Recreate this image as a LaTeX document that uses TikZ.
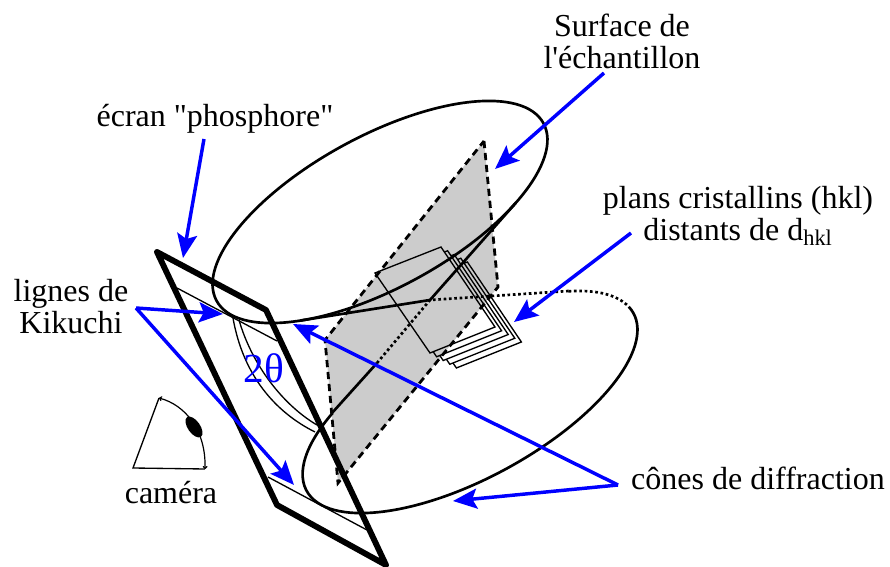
\documentclass[tikz,border=0pt]{standalone}
\usepackage{fontspec}
\setmainfont{Liberation Serif}[Ligatures=TeXOff]
\usepackage{xcolor}
\usepackage{tikz}
\usetikzlibrary{arrows.meta}
\definecolor{PlanGray}{HTML}{CCCCCC}
\definecolor{ArrowBlue}{HTML}{0000FF}
\tikzset{
  labeltext/.style={align=center,inner sep=0pt,font=\fontsize{24}{24}\selectfont},
  bluearrow/.style={-{Stealth[length=18pt,width=15pt,inset=3.5pt]},line width=2.6pt,draw=ArrowBlue},
  screenline/.style={line width=4.4pt,line join=round},
  coneline/.style={line width=2pt},
  conedots/.style={line width=2pt,dash pattern=on 2pt off 2pt},
  planedash/.style={fill=PlanGray,line width=2.1pt,dash pattern=on 5.4pt off 3.6pt},
  crystalline/.style={line width=1pt,line join=miter},
  camtip/.style={{To[length=0.8mm,width=1.3mm]}-{To[length=0.8mm,width=1.3mm]},line width=0.9pt}
}
\begin{document}
\begin{tikzpicture}[x=0.75pt,y=-0.75pt]
\useasboundingbox (0,0) rectangle (890,567);
\coordinate (apex) at (430,300);
\coordinate (upperleft) at (300.6,320.5);
\coordinate (upperright) at (516,202.6);
\coordinate (lowerright) at (568.7,291);
\coordinate (lowerleft) at (332,413);
\coordinate (dotstop) at (377,363);
\draw[planedash] (484,141)--(498,287)--(338,483)--(325,340)--cycle;
\draw[crystalline] (375,273)--(441,247)--(495,327)--(430,353)--cycle;
\foreach \i in {1,...,4}
  \draw[crystalline,shift={(6.6*\i,3.75*\i)}] (437.9,248.2)--(441,247)--(495,327)--(430,353)--(426.6,348);
\draw[coneline,rotate around={28.5:(380,212)}] (380,212) ellipse [x radius=139.5pt,y radius=57pt];
\draw[coneline] (upperleft)--(apex)--(upperright);
\begin{scope}[shift={(470,402)},rotate=28.5]
\draw[conedots] (41.4:139.5pt and 57pt) arc [start angle=41.4,end angle=6,x radius=139.5pt,y radius=57pt];
\draw[coneline] (6:139.5pt and 57pt) arc [start angle=6,end angle=-227.2,x radius=139.5pt,y radius=57pt];
\end{scope}
\draw[conedots] (lowerright)--(apex)--(dotstop);
\draw[coneline] (dotstop)--(lowerleft);
\draw[crystalline] (177,288)--(277,341);
\draw[crystalline] (268,477)--(367,530);
\draw[crystalline] (233,318) .. controls (243,375) and (275,412) .. (315,432);
\draw[crystalline] (239,320) .. controls (252,365) and (283,405) .. (317,425);
\draw[screenline] (157,252)--(266,310)--(386,565)--(277,505)--cycle;
\draw[line width=1pt] (159,398)--(133,468)--(205,469);
\draw[camtip] (159,398) .. controls (185,405) and (206,430) .. (205,469);
\fill[rotate around={-55:(194,427)}] (194,427) ellipse [x radius=9pt,y radius=4.6pt];
\node[labeltext] (surface) at (622,41) {Surface de\\l'échantillon};
\node[labeltext] (ecran) at (215,119) {écran "phosphore"};
\node[labeltext] (plans) at (738,216) {plans cristallins (hkl)\\distants de d\textsubscript{hkl}};
\node[labeltext] (lignes) at (71,307) {lignes de\\Kikuchi};
\node[labeltext] (camera) at (171,493) {caméra};
\node[labeltext] (cones) at (758,478) {cônes de diffraction};
\node[text=ArrowBlue,inner sep=0pt,font=\fontsize{31}{32}\selectfont] (angle) at (264,368) {2θ};
\coordinate (ecranout) at (204,139);
\coordinate (ecrantip) at (183,258);
\coordinate (surfaceout) at (604,73);
\coordinate (surfacetip) at (495,169);
\coordinate (plansout) at (631,233);
\coordinate (planstip) at (514,322);
\coordinate (lignesout) at (136,308);
\coordinate (lignestipa) at (223,314);
\coordinate (lignestipb) at (294,485);
\coordinate (conesout) at (618,485);
\coordinate (conestipa) at (293,324);
\coordinate (conestipb) at (453,501);
\draw[bluearrow] (ecranout)--(ecrantip);
\draw[bluearrow] (surfaceout)--(surfacetip);
\draw[bluearrow] (plansout)--(planstip);
\draw[bluearrow] (lignesout)--(lignestipa);
\draw[bluearrow] (lignesout)--(lignestipb);
\draw[bluearrow] (conesout)--(conestipa);
\draw[bluearrow] (conesout)--(conestipb);
\end{tikzpicture}
\end{document}
